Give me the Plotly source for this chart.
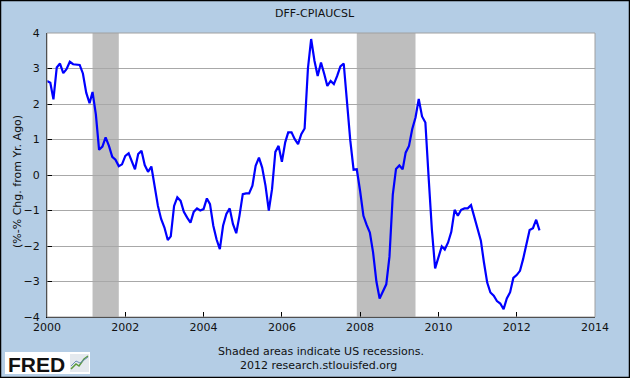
import pandas as pd
import plotly.graph_objects as go

# ---- data ----
start_month = "2000-01-01"
spread = [
    2.65, 2.60, 2.13, 3.03, 3.14, 2.87, 2.98, 3.19, 3.12, 3.12, 3.10, 2.86,
    2.32, 2.02, 2.34, 1.71, 0.71, 0.80, 1.06, 0.82, 0.51, 0.43, 0.25, 0.30,
    0.54, 0.61, 0.40, 0.16, 0.59, 0.68, 0.28, 0.09, 0.24, -0.30, -0.87, -1.24,
    -1.48, -1.83, -1.73, -0.87, -0.63, -0.73, -1.04, -1.20, -1.34, -1.04, -0.94, -1.00,
    -0.96, -0.66, -0.82, -1.43, -1.81, -2.09, -1.43, -1.10, -0.94, -1.38, -1.64, -1.15,
    -0.54, -0.52, -0.52, -0.30, 0.26, 0.49, 0.21, -0.30, -1.00, -0.40, 0.65, 0.82,
    0.37, 0.92, 1.20, 1.20, 1.01, 0.87, 1.15, 1.31, 3.00, 3.83, 3.22, 2.79,
    3.17, 2.84, 2.51, 2.65, 2.56, 2.79, 3.06, 3.14, 2.00, 0.98, 0.15, 0.16,
    -0.45, -1.15, -1.40, -1.62, -2.18, -3.00, -3.48, -3.30, -3.08, -2.30, -0.55, 0.17,
    0.27, 0.16, 0.63, 0.82, 1.29, 1.62, 2.14, 1.65, 1.48, -0.05, -1.55, -2.63,
    -2.35, -2.01, -2.10, -1.90, -1.60, -0.98, -1.15, -0.98, -0.94, -0.94, -0.85, -1.20,
    -1.50, -1.85, -2.45, -3.03, -3.31, -3.40, -3.55, -3.62, -3.78, -3.48, -3.30, -2.90,
    -2.82, -2.70, -2.37, -1.98, -1.55, -1.50, -1.26, -1.56,
]
recession_starts = ["2001-03-01", "2007-12-01"]
recession_ends = ["2001-11-01", "2009-06-01"]
x_tick_years = [2000, 2002, 2004, 2006, 2008, 2010, 2012, 2014]
y_ticks = [-4, -3, -2, -1, 0, 1, 2, 3, 4]

dates = pd.date_range(start_month, periods=len(spread), freq="MS")

# ---- layout geometry ----
W, H = 630, 378
L, R, T, B = 47, 35, 33, 61
PW, PH = W - L - R, H - T - B
BG = "#B4CDE5"
FONT = "DejaVu Sans"


def px(x):
    return (x - L) / PW


def py(y):
    return (H - B - y) / PH


fig = go.Figure()
fig.add_trace(go.Scatter(
    x=dates, y=spread, mode="lines",
    line=dict(color="#0000FF", width=2.2),
    hoverinfo="skip", showlegend=False,
))

shapes = []
for s, e in zip(recession_starts, recession_ends):
    shapes.append(dict(type="rect", xref="x", yref="paper", x0=s, x1=e, y0=0, y1=1,
                       fillcolor="#BEBEBE", line=dict(width=0), layer="between"))
# plot frame (gray top/right)
shapes.append(dict(type="rect", xref="paper", yref="paper", x0=0, x1=1, y0=0, y1=1,
                   line=dict(color="#A0A0A0", width=1), fillcolor="rgba(0,0,0,0)", layer="above"))
# outer black border
shapes.append(dict(type="rect", xref="paper", yref="paper",
                   x0=px(0.5), x1=px(W - 0.5), y0=py(H - 0.5), y1=py(0.5),
                   line=dict(color="black", width=1.5), fillcolor="rgba(0,0,0,0)", layer="above"))
# FRED logo box
shapes.append(dict(type="rect", xref="paper", yref="paper",
                   x0=px(5), x1=px(90), y0=py(374), y1=py(352),
                   line=dict(width=0), fillcolor="white", layer="above"))
shapes.append(dict(type="rect", xref="paper", yref="paper",
                   x0=px(70), x1=px(89), y0=py(372), y1=py(354),
                   line=dict(width=0), fillcolor="#E4E9EE", layer="above"))
shapes.append(dict(type="path", xref="paper", yref="paper",
                   path="M {} {} L {} {} L {} {} L {} {} L {} {}".format(
                       px(71), py(369), px(76), py(364), px(79), py(366), px(84), py(359), px(88), py(356)),
                   line=dict(color="#5A9A3C", width=1.5), layer="above"))
shapes.append(dict(type="path", xref="paper", yref="paper",
                   path="M {} {} L {} {} L {} {} L {} {}".format(
                       px(71), py(366), px(76), py(361), px(80), py(363), px(88), py(357)),
                   line=dict(color="#6C8FB8", width=1), layer="above"))

annotations = [
    dict(text="DFF-CPIAUCSL", xref="paper", yref="paper", x=px(315), y=py(13),
         showarrow=False, font=dict(family=FONT, size=11, color="#111"), xanchor="center", yanchor="middle"),
    dict(text="(%-% Chg. from Yr. Ago)", xref="paper", yref="paper", x=px(17), y=py(182),
         showarrow=False, textangle=-90, font=dict(family=FONT, size=11, color="#111"),
         xanchor="center", yanchor="middle"),
    dict(text="Shaded areas indicate US recessions.", xref="paper", yref="paper", x=px(321), y=py(351),
         showarrow=False, font=dict(family=FONT, size=11, color="#111"), xanchor="center", yanchor="middle"),
    dict(text="2012 research.stlouisfed.org", xref="paper", yref="paper", x=px(318), y=py(365),
         showarrow=False, font=dict(family=FONT, size=11, color="#111"), xanchor="center", yanchor="middle"),
    dict(text="<b>FRED</b>", xref="paper", yref="paper", x=px(36), y=py(364),
         showarrow=False, font=dict(family="Liberation Sans", size=21, color="#111"),
         xanchor="center", yanchor="middle"),
]

fig.update_layout(
    width=W, height=H,
    margin=dict(l=L, r=R, t=T, b=B, pad=0),
    paper_bgcolor=BG, plot_bgcolor="white",
    shapes=shapes, annotations=annotations,
    showlegend=False,
    xaxis=dict(
        type="date", range=["2000-01-01", "2014-01-01"],
        tickvals=[f"{y}-01-01" for y in x_tick_years],
        ticktext=[str(y) for y in x_tick_years],
        ticks="inside", ticklen=5, tickcolor="black", tickwidth=1,
        showgrid=False, zeroline=False,
        showline=True, linecolor="black", linewidth=1,
        tickfont=dict(family=FONT, size=11, color="#111"),
    ),
    yaxis=dict(
        range=[-4, 4], tickvals=y_ticks,
        ticks="inside", ticklen=5, tickcolor="black", tickwidth=1,
        showgrid=True, gridcolor="#A8A8A8", gridwidth=1, zeroline=False,
        showline=True, linecolor="black", linewidth=1,
        tickfont=dict(family=FONT, size=11, color="#111"),
        ticklabelstandoff=4,
    ),
)

fig.write_html(
    "out.html",
    config={"displayModeBar": False},
    post_script="document.body.style.margin='0';document.body.style.overflow='hidden';",
)
